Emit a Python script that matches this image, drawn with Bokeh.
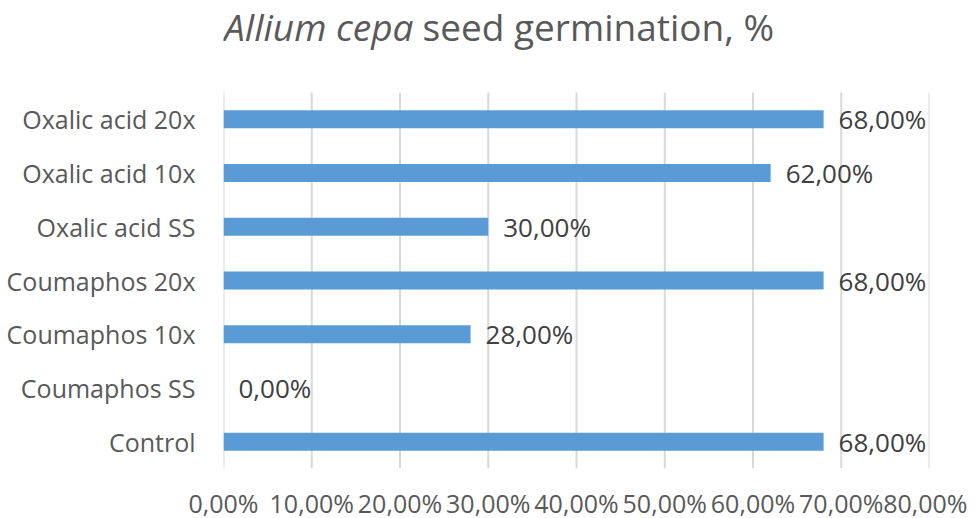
from bokeh.plotting import figure
from bokeh.models import ColumnDataSource, CustomJSTickFormatter, FixedTicker, Range1d
from bokeh.core.properties import value
from bokeh.embed import file_html
from bokeh.resources import INLINE

categories = ["Control", "Coumaphos SS", "Coumaphos 10x", "Coumaphos 20x",
              "Oxalic acid SS", "Oxalic acid 10x", "Oxalic acid 20x"]
germination = [68, 0, 28, 68, 30, 62, 68]
x_ticks = [0, 10, 20, 30, 40, 50, 60, 70, 80]
value_labels = [f"{v:.2f}".replace(".", ",") + "%" for v in germination]
title_italic = "Allium cepa"
title_rest = "seed germination, %"

FONT = "Open Sans"
pos = list(range(len(categories)))
src = ColumnDataSource(dict(pos=pos, val=germination, lab=value_labels))

band_px = 376 / len(categories)
top_extra = 92 / band_px
y_lo, y_hi = -0.5, len(categories) - 0.5

p = figure(x_range=(0, 80), y_range=Range1d(y_lo, y_hi + top_extra),
           output_backend="svg", toolbar_location=None,
           frame_width=706, frame_height=376 + 92,
           min_border_left=223, min_border_right=38, min_border_top=0,
           min_border_bottom=50, outline_line_color=None)

# vertical gridlines limited to the category area
p.segment(x0=x_ticks, x1=x_ticks, y0=[y_lo] * len(x_ticks), y1=[y_hi] * len(x_ticks),
          line_color="#D9D9D9", line_width=2)

p.hbar(y="pos", right="val", left=0, height=0.335, source=src,
       fill_color="#5B9BD5", line_color=None)

p.text(x="val", y="pos", text="lab", source=src, x_offset=15,
       text_baseline="middle", text_align="left", text_font=value(FONT),
       text_font_size="26px", text_color="#404040")

# title (italic species name + plain text), placed above the category area
p.text(x=[0], y=[y_hi + top_extra], text=[title_italic], x_offset=190, y_offset=26,
       text_align="right", text_baseline="alphabetic", text_font=value(FONT),
       text_font_size="37px", text_font_style="italic", text_color="#595959")
p.text(x=[0], y=[y_hi + top_extra], text=[title_rest], x_offset=199, y_offset=26,
       text_align="left", text_baseline="alphabetic", text_font=value(FONT),
       text_font_size="37px", text_color="#595959")

p.xaxis.ticker = FixedTicker(ticks=x_ticks)
p.xaxis.formatter = CustomJSTickFormatter(
    code="return tick.toFixed(2).replace('.', ',') + '%';")
p.yaxis.ticker = FixedTicker(ticks=pos)
p.yaxis.major_label_overrides = {i: c for i, c in zip(pos, categories)}
for ax in (p.xaxis, p.yaxis):
    ax.axis_line_color = None
    ax.major_tick_line_color = None
    ax.minor_tick_line_color = None
    ax.major_label_text_font = FONT
    ax.major_label_text_font_size = "25px"
    ax.major_label_text_color = "#595959"
p.xaxis.major_label_standoff = 11
p.yaxis.major_label_standoff = 22

p.xgrid.grid_line_color = None
p.ygrid.grid_line_color = None

open("out.html", "w").write(file_html(p, INLINE))
